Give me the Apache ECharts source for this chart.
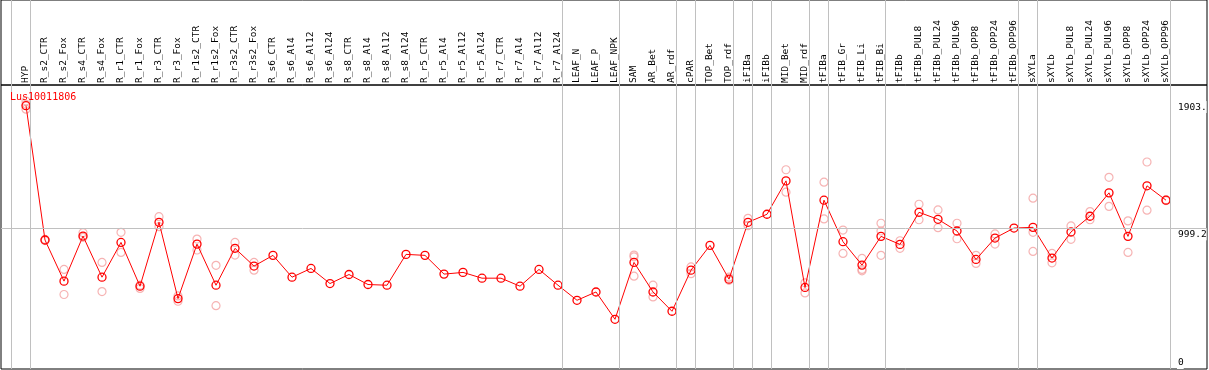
<!DOCTYPE html>
<html>
<head>
<meta charset="utf-8">
<script src="https://cdn.jsdelivr.net/npm/echarts@6/dist/echarts.min.js"></script>
<style>
  html, body { margin: 0; padding: 0; background: #fff; }
  #chart { width: 1209px; height: 370px; }
</style>
</head>
<body>
<div id="chart"></div>
<script>
const categories = [
  "HYP", "R_s2_CTR", "R_s2_Fox", "R_s4_CTR", "R_s4_Fox", "R_r1_CTR", "R_r1_Fox",
  "R_r3_CTR", "R_r3_Fox", "R_r1s2_CTR", "R_r1s2_Fox", "R_r3s2_CTR", "R_r3s2_Fox",
  "R_s6_CTR", "R_s6_Al4", "R_s6_Al12", "R_s6_Al24", "R_s8_CTR", "R_s8_Al4",
  "R_s8_Al12", "R_s8_Al24", "R_r5_CTR", "R_r5_Al4", "R_r5_Al12", "R_r5_Al24",
  "R_r7_CTR", "R_r7_Al4", "R_r7_Al12", "R_r7_Al24", "LEAF_N", "LEAF_P", "LEAF_NPK",
  "SAM", "AR_Bet", "AR_rdf", "cPAR", "TOP_Bet", "TOP_rdf", "iFIBa", "iFIBb",
  "MID_Bet", "MID_rdf", "tFIBa", "tFIB_Gr", "tFIB_Li", "tFIB_Bi", "tFIBb",
  "tFIBb_PUL8", "tFIBb_PUL24", "tFIBb_PUL96", "tFIBb_OPP8", "tFIBb_OPP24", "tFIBb_OPP96",
  "sXYLa", "sXYLb", "sXYLb_PUL8", "sXYLb_PUL24", "sXYLb_PUL96", "sXYLb_OPP8",
  "sXYLb_OPP24", "sXYLb_OPP96"
];

// mean expression per sample
const means = [
  1870, 916, 624, 944, 652, 899, 588, 1042, 500, 887, 595, 857, 731,
  807, 652, 714, 607, 671, 600, 595, 814, 807, 674, 686, 645,
  645, 588, 707, 595, 488, 547, 353,
  757, 547, 410, 702, 878, 638, 1042, 1099,
  1336, 579, 1199, 904, 738, 942, 885,
  1113, 1063, 980, 778, 930, 1001,
  1006, 788, 973, 1085, 1251, 942, 1301, 1199
];

// individual replicates
const replicates = [
  [1903, 1880, 1845], [920, 912], [707, 529], [968, 935], [757, 550], [971, 828], [572, 595],
  [1082, 1011], [519, 481], [923, 845], [736, 450], [899, 809], [757, 702],
  [], [], [], [], [], [], [], [], [], [], [], [],
  [], [], [], [], [], [], [],
  [809, 797, 659], [595, 512], [], [725, 677], [], [652, 630], [1070, 1018], [],
  [1415, 1256], [612, 540], [1327, 1066], [987, 821], [785, 707, 697], [1035, 980, 807], [911, 857],
  [1170, 1060], [1130, 1004], [1035, 925], [807, 750], [959, 887], [],
  [1213, 971, 835], [821, 754], [1016, 921], [1118, 1060], [1361, 1155], [1052, 828],
  [1470, 1128], [1196, 1202]
];

// last sample index of each group (separator lines drawn after these)
const groupEnds = [-1, 0, 28, 31, 34, 35, 37, 38, 39, 41, 42, 45, 52, 53, 60];

const yTickValues = [0, 999.2, 1903];
const yTickLabels = ["0", "999.2", "1903."];

const geneName = "Lus10011806";

document.addEventListener("DOMContentLoaded", function () {
    let chart = echarts.init(document.getElementById("chart"));

    const mono = "DejaVu Sans Mono";
    const xMin = -1.316, xMax = 62.158;
    const sepLines = groupEnds.map(g => ({ xAxis: g + 0.24 }));
    const sepStyle = { color: "#c0c0c0", width: 1, type: "solid" };

    let repData = [];
    replicates.forEach((list, i) => list.forEach(v => repData.push([i, v])));

    let option = {
        animation: false,
        title: {
            text: geneName,
            left: 5,
            top: 87,
            textStyle: { color: "#ff0000", fontSize: 10, fontWeight: "normal", fontFamily: mono }
        },
        grid: [
            { left: 1, right: 2, top: 85, bottom: 1, show: true, borderColor: "#000", borderWidth: 1, outerBoundsMode: "none" },
            { left: 1, right: 2, top: 0, height: 85, show: true, borderColor: "#000", borderWidth: 1, outerBoundsMode: "none" }
        ],
        xAxis: [
            {
                type: "value", gridIndex: 0, min: xMin, max: xMax,
                axisLine: { show: false }, axisTick: { show: false },
                axisLabel: { show: false }, splitLine: { show: false }
            },
            {
                type: "value", gridIndex: 1, min: xMin, max: xMax, position: "bottom",
                axisLine: { show: false }, axisTick: { show: false }, splitLine: { show: false },
                axisLabel: {
                    inside: true,
                    rotate: 90,
                    margin: 2,
                    customValues: categories.map((c, i) => i),
                    formatter: v => categories[Math.round(v)] || "",
                    color: "#000",
                    fontSize: 9.5,
                    fontFamily: mono
                }
            }
        ],
        yAxis: [
            {
                type: "value", gridIndex: 0, min: 0, max: 2017, position: "right",
                axisLine: { show: false }, axisTick: { show: false }, splitLine: { show: false },
                axisLabel: {
                    inside: true,
                    margin: 30,
                    align: "left",
                    verticalAlign: "top",
                    verticalAlignMinLabel: "bottom",
                    customValues: yTickValues,
                    formatter: v => yTickLabels[yTickValues.indexOf(v)],
                    color: "#000",
                    fontSize: 9.5,
                    fontFamily: mono,
                    backgroundColor: "#fff",
                    padding: [1, 0, 1, 1]
                }
            },
            {
                type: "value", gridIndex: 1, min: 0, max: 1,
                show: false
            }
        ],
        series: [
            {
                name: "grid",
                type: "line",
                xAxisIndex: 0, yAxisIndex: 0,
                data: [],
                z: 1,
                silent: true,
                markLine: {
                    silent: true,
                    symbol: "none",
                    label: { show: false },
                    lineStyle: sepStyle,
                    data: sepLines.concat([{ yAxis: yTickValues[1] }])
                }
            },
            {
                name: "gridTop",
                type: "line",
                xAxisIndex: 1, yAxisIndex: 1,
                data: [],
                z: 1,
                silent: true,
                markLine: {
                    silent: true,
                    symbol: "none",
                    label: { show: false },
                    lineStyle: sepStyle,
                    data: sepLines
                }
            },
            {
                name: "replicates",
                type: "scatter",
                xAxisIndex: 0, yAxisIndex: 0,
                data: repData,
                symbol: "circle",
                symbolSize: 8,
                z: 2,
                itemStyle: { color: "rgba(0,0,0,0)", borderColor: "#f4a0a0", borderWidth: 1.2 }
            },
            {
                name: geneName,
                type: "line",
                xAxisIndex: 0, yAxisIndex: 0,
                data: means.map((v, i) => [i, v]),
                symbol: "circle",
                symbolSize: 8,
                z: 3,
                lineStyle: { color: "#ff0000", width: 1 },
                itemStyle: { color: "rgba(0,0,0,0)", borderColor: "#ff0000", borderWidth: 1.3 }
            }
        ]
    };
    chart.setOption(option);
});
</script>
</body>
</html>
